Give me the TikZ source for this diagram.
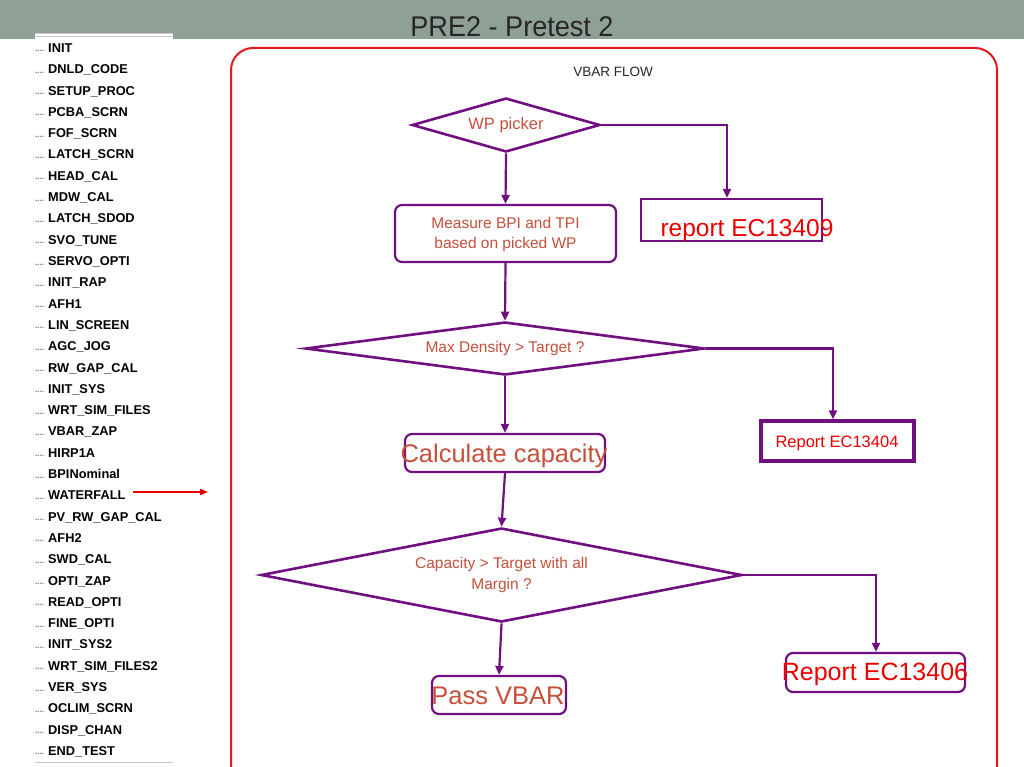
\documentclass[tikz,border=0pt]{standalone}
\usepackage{fontspec}
\setmainfont{Liberation Sans}
\usetikzlibrary{shapes.geometric,arrows.meta}
\definecolor{hdr}{RGB}{143,160,151}
\definecolor{purp}{RGB}{112,16,128}
\definecolor{txo}{RGB}{197,80,60}
\definecolor{rd}{RGB}{232,0,0}
\definecolor{frame}{RGB}{232,24,32}
\definecolor{lgray}{RGB}{200,200,200}
\tikzset{
  conn/.style={draw=purp,line width=2.2pt,-{Triangle[length=9pt,width=8pt]}},
  dia/.style={diamond,draw=purp,line width=2.6pt,inner sep=0pt,text=txo},
  procbox/.style={rectangle,rounded corners=7pt,draw=purp,line width=2.2pt,inner sep=0pt},
  sqbox/.style={rectangle,draw=purp,line width=2.2pt,inner sep=0pt},
  item/.style={anchor=base west,inner sep=0pt,font=\fontsize{12.8}{14}\selectfont\bfseries,text=black},
  dots/.style={anchor=base west,inner sep=0pt,font=\fontsize{8}{9}\selectfont\bfseries,text=black!55},
  lbl/.style={inner sep=0pt,align=center}
}
\begin{document}
\begin{tikzpicture}[x=1pt,y=-1pt]
\useasboundingbox (0,0) rectangle (1024,767);
\fill[white] (0,0) rectangle (1024,767);
% header
\fill[hdr] (0,0) rectangle (1024,39);
\node[inner sep=0pt,font=\fontsize{28.5}{30}\selectfont,text=black!85,xscale=0.95] (title) at (512,27) {PRE2 - Pretest 2};
% left list
\fill[white] (35,33) rectangle (173,767);
\draw[lgray,line width=1pt] (35,34) -- (173,34);
\draw[lgray,line width=1pt] (35,37) -- (173,37);
\draw[lgray,line width=1pt] (35,762) -- (173,762);
\foreach \t [count=\i from 0] in {INIT,DNLD\_CODE,SETUP\_PROC,PCBA\_SCRN,FOF\_SCRN,LATCH\_SCRN,HEAD\_CAL,MDW\_CAL,LATCH\_SDOD,SVO\_TUNE,SERVO\_OPTI,INIT\_RAP,AFH1,LIN\_SCREEN,AGC\_JOG,RW\_GAP\_CAL,INIT\_SYS,WRT\_SIM\_FILES,VBAR\_ZAP,HIRP1A,BPINominal,WATERFALL,PV\_RW\_GAP\_CAL,AFH2,SWD\_CAL,OPTI\_ZAP,READ\_OPTI,FINE\_OPTI,INIT\_SYS2,WRT\_SIM\_FILES2,VER\_SYS,OCLIM\_SCRN,DISP\_CHAN,END\_TEST}{
  \pgfmathsetmacro{\yy}{52.5+\i*21.3}
  \node[dots] (d\i) at (35,\yy-0.5) {....};
  \node[item] (it\i) at (48,\yy) {\t};
}
\coordinate (wfa) at (133,492);
\coordinate (wfb) at (208,492);
\draw[rd,line width=1.5pt,-{Triangle[length=8pt,width=6pt]}] (wfa) -- (wfb);
% red frame
\draw[frame,line width=2pt,rounded corners=22pt] (231,790) -- (231,48) -- (997,48) -- (997,790);
\node[inner sep=0pt,font=\fontsize{13.5}{15}\selectfont,text=black!85] (flow) at (613,72) {VBAR FLOW};
% diagram nodes
\node[dia,minimum width=188pt,minimum height=54pt,aspect=3.5,font=\fontsize{16.5}{18}\selectfont] (wp) at (506,125) {WP picker};
\node[procbox,minimum width=221pt,minimum height=57pt] (meas) at (505.5,233.5) {};
\node[lbl,text=txo,font=\fontsize{15.5}{20}\selectfont] (meast) at (505.5,234) {Measure BPI and TPI\\based on picked WP};
\node[sqbox,minimum width=181pt,minimum height=42pt] (r409) at (731.5,220) {};
\node[lbl,text=rd,font=\fontsize{24.5}{26}\selectfont] (r409t) at (747,230) {report EC13409};
\node[dia,minimum width=399pt,minimum height=53pt,aspect=7.5,font=\fontsize{15.5}{17}\selectfont] (maxd) at (505,348.5) {Max Density > Target ?};
\node[sqbox,line width=3.2pt,minimum width=153pt,minimum height=40pt] (r404) at (837.5,441) {};
\node[lbl,text=rd,font=\fontsize{16.5}{18}\selectfont] (r404t) at (837,443) {Report EC13404};
\node[procbox,minimum width=200pt,minimum height=38pt] (calc) at (505,453) {};
\node[lbl,text=txo,font=\fontsize{25.5}{28}\selectfont] (calct) at (504,456) {Calculate capacity};
\node[dia,minimum width=481pt,minimum height=94pt,aspect=5.1,align=center,font=\fontsize{15.5}{20.5}\selectfont] (capd) at (501.5,575) {Capacity > Target with all\\Margin ?};
\node[procbox,minimum width=179pt,minimum height=39pt] (r406) at (875.5,672.5) {};
\node[lbl,text=rd,font=\fontsize{25}{28}\selectfont] (r406t) at (875,674) {Report EC13406};
\node[procbox,minimum width=134pt,minimum height=38pt] (pass) at (499,695) {};
\node[lbl,text=txo,font=\fontsize{25.5}{28}\selectfont] (passt) at (498,696) {Pass VBAR};
% connectors
\draw[conn] (wp.south) -- (meas.north);
\draw[conn] (wp.east) -| (r409.north -| 727,0);
\draw[conn] (meas.south) -- (maxd.north);
\draw[conn] (maxd.east) -| (r404.north -| 833,0);
\draw[conn] (maxd.south) -- (calc.north);
\draw[conn] (calc.south) -- (capd.north);
\draw[conn] (capd.east) -| (r406.north -| 876,0);
\draw[conn] (capd.south) -- (pass.north);
\end{tikzpicture}
\end{document}
